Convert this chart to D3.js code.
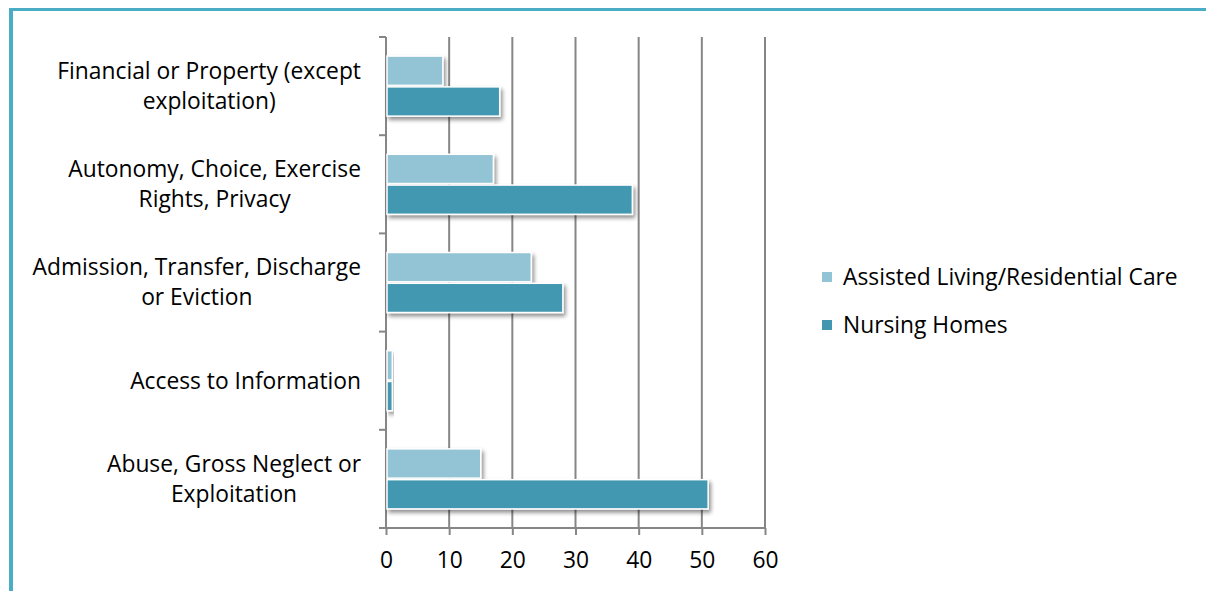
<!DOCTYPE html>
<html>
<head>
<meta charset="utf-8">
<script src="https://cdn.jsdelivr.net/npm/d3@7"></script>
<style>
  body { margin: 0; background: #fff; }
  text { font-family: "Open Sans", "Noto Sans", sans-serif; fill: #000; }
</style>
</head>
<body>
<script>
// categories, listed top-to-bottom as they appear
const categories = [
    ["Financial or Property (except", "exploitation)"],
    ["Autonomy, Choice, Exercise", "Rights, Privacy"],
    ["Admission, Transfer, Discharge", "or Eviction"],
    ["Access to Information"],
    ["Abuse, Gross Neglect or", "Exploitation"]
];
const assistedLiving = [9, 17, 23, 1, 15];
const nursingHomes = [18, 39, 28, 1, 51];
const xTicks = [0, 10, 20, 30, 40, 50, 60];
const seriesNames = ["Assisted Living/Residential Care", "Nursing Homes"];
const seriesColors = ["#93c4d5", "#4398b0"];

const W = 1206, H = 591;
const FS = 22.8;
const svg = d3.select("body").append("svg")
    .attr("width", W)
    .attr("height", H);

// frame lines (top and left)
svg.append("rect").attr("x", 9).attr("y", 8).attr("width", W - 9).attr("height", 3).attr("fill", "#4bacc6");
svg.append("rect").attr("x", 9).attr("y", 8).attr("width", 4).attr("height", H - 8).attr("fill", "#4bacc6");

const defs = svg.append("defs");
const shadow = defs.append("filter").attr("id", "shadow")
    .attr("x", "-10%").attr("y", "-30%").attr("width", "130%").attr("height", "180%");
shadow.append("feGaussianBlur").attr("in", "SourceAlpha").attr("stdDeviation", 2.2);
shadow.append("feOffset").attr("dx", 2).attr("dy", 3).attr("result", "b");
shadow.append("feComponentTransfer").append("feFuncA").attr("type", "linear").attr("slope", 0.45);
const merge = shadow.append("feMerge");
merge.append("feMergeNode");
merge.append("feMergeNode").attr("in", "SourceGraphic");

const x = d3.scaleLinear().domain([0, 60]).range([386, 765]);
const y = d3.scaleBand().domain(d3.range(categories.length)).range([37, 528]);
const inner = d3.scaleBand().domain([0, 1]).range([0, y.bandwidth()]).paddingOuter(0.62).paddingInner(0.05);

// vertical gridlines
svg.append("g").selectAll("line")
    .data(xTicks.slice(1))
    .join("line")
    .attr("x1", d => x(d)).attr("x2", d => x(d))
    .attr("y1", 37).attr("y2", 528)
    .attr("stroke", "#868686").attr("stroke-width", 2);

// x axis
const xAxis = svg.append("g").attr("transform", "translate(0,528)")
    .call(d3.axisBottom(x).tickValues(xTicks).tickSize(7).tickPadding(17));
xAxis.select(".domain").attr("d", "M379,0H765").attr("stroke", "#868686").attr("stroke-width", 2);
xAxis.selectAll(".tick line").attr("stroke", "#868686").attr("stroke-width", 2);
xAxis.selectAll(".tick text").attr("font-size", FS).attr("font-family", "'Open Sans', sans-serif").attr("fill", "#000");

// y axis line with ticks at category boundaries
const yBounds = d3.range(categories.length + 1).map(i => 37 + i * y.step());
svg.append("line").attr("x1", x(0)).attr("x2", x(0)).attr("y1", 37).attr("y2", 528)
    .attr("stroke", "#868686").attr("stroke-width", 2);
svg.append("g").selectAll("line")
    .data(yBounds)
    .join("line")
    .attr("x1", x(0) - 7).attr("x2", x(0))
    .attr("y1", d => d).attr("y2", d => d)
    .attr("stroke", "#868686").attr("stroke-width", 2);

// bars
const series = [assistedLiving, nursingHomes];
series.forEach((vals, s) => {
    svg.append("g").selectAll("rect")
        .data(vals)
        .join("rect")
        .attr("x", x(0) + 1)
        .attr("y", (d, i) => y(i) + inner(s))
        .attr("width", d => x(d) - x(0) - 1)
        .attr("height", inner.bandwidth())
        .attr("fill", seriesColors[s])
        .attr("stroke", "#fff")
        .attr("stroke-width", 1.5)
        .attr("filter", "url(#shadow)");
});

// category labels
const labels = svg.append("g").selectAll("text")
    .data(categories)
    .join("text")
    .attr("text-anchor", "middle")
    .attr("font-size", FS);
labels.each(function(lines, i) {
    const t = d3.select(this);
    const cy = y(i) + y.bandwidth() / 2;
    const lh = 30;
    lines.forEach((ln, j) => {
        t.append("tspan")
            .attr("y", cy + (j - (lines.length - 1) / 2) * lh)
            .attr("dy", "0.35em")
            .text(ln);
    });
    // right align the widest line at x=361, centre the others on it
    const w = d3.max(t.selectAll("tspan").nodes(), n => n.getComputedTextLength());
    t.selectAll("tspan").attr("x", 361 - w / 2);
});

// legend
const legend = svg.append("g").selectAll("g")
    .data(seriesNames)
    .join("g")
    .attr("transform", (d, i) => `translate(822,${277 + i * 48})`);
legend.append("rect").attr("x", 0).attr("y", -5).attr("width", 10).attr("height", 10)
    .attr("fill", (d, i) => seriesColors[i]);
legend.append("text").attr("x", 21).attr("dy", "0.35em").attr("font-size", FS).text(d => d);
</script>
</body>
</html>
